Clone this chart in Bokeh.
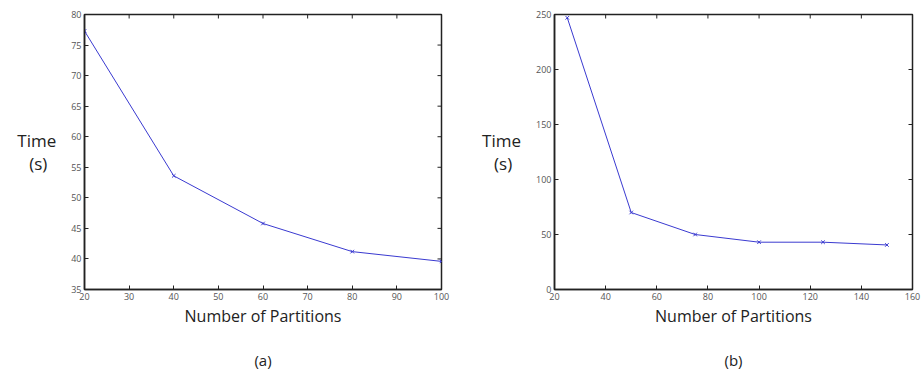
from math import pi
from bokeh.plotting import figure
from bokeh.layouts import row
from bokeh.models import Title, Range1d, FixedTicker
from bokeh.embed import file_html
from bokeh.resources import INLINE

# Panel (a)
a_partitions = [20, 40, 60, 80, 100]
a_time = [77.3, 53.6, 45.8, 41.2, 39.6]
a_xticks = [20, 30, 40, 50, 60, 70, 80, 90, 100]
a_yticks = [35, 40, 45, 50, 55, 60, 65, 70, 75, 80]

# Panel (b)
b_partitions = [25, 50, 75, 100, 125, 150]
b_time = [247, 70, 50, 43, 43, 40.5]
b_xticks = [20, 40, 60, 80, 100, 120, 140, 160]
b_yticks = [0, 50, 100, 150, 200, 250]

FONT = "Open Sans"
LINE = "#3a3ad0"


def make(xs, ys, xr, yr, xt, yt, caption, fw, fh, bl, br, bt, bb):
    p = figure(frame_width=fw, frame_height=fh, output_backend="svg", toolbar_location=None,
               x_range=Range1d(*xr), y_range=Range1d(*yr),
               min_border_left=bl, min_border_right=br, min_border_top=bt, min_border_bottom=bb)
    p.xgrid.visible = False
    p.ygrid.visible = False
    p.outline_line_color = "#222222"
    p.outline_line_width = 1.5
    p.background_fill_color = "white"
    p.border_fill_color = "white"
    for ax, ticks in ((p.xaxis[0], xt), (p.yaxis[0], yt)):
        ax.ticker = FixedTicker(ticks=ticks)
        ax.major_tick_in = 4
        ax.major_tick_out = 0
        ax.minor_tick_line_color = None
        ax.axis_line_color = "#222222"
        ax.axis_line_width = 1.5
        ax.major_tick_line_color = "#222222"
        ax.major_label_text_font = FONT
        ax.major_label_text_font_size = "9px"
        ax.major_label_text_color = "#555555"
        ax.major_label_standoff = 3
        ax.axis_label_text_font = FONT
        ax.axis_label_text_font_style = "normal"
        ax.axis_label_text_color = "#222222"
    p.xaxis[0].axis_label = "Number of Partitions"
    p.xaxis[0].axis_label_text_font_size = "16px"
    p.xaxis[0].axis_label_standoff = 2
    p.yaxis[0].axis_label = "Time\n(s)\u00a0\u00a0"
    p.yaxis[0].axis_label_text_font_size = "17px"
    p.yaxis[0].axis_label_orientation = "horizontal"
    p.yaxis[0].axis_label_text_line_height = 1.0
    p.yaxis[0].axis_label_standoff = 12
    # mirrored inward ticks on the top and right edges (clipped dash markers)
    p.scatter(xt, [yr[1]] * len(xt), marker="dash", angle=pi / 2, size=8,
              line_color="#222222", line_width=1)
    p.scatter([xr[1]] * len(yt), yt, marker="dash", size=8,
              line_color="#222222", line_width=1)
    p.line(xs, ys, line_color=LINE, line_width=1)
    p.scatter(xs, ys, marker="x", size=5, line_color=LINE, line_width=1)
    t = Title(text=caption, align="center", text_font=FONT, text_font_size="15px",
              text_font_style="normal", text_color="#222222", padding=(0, 0, 13, 0))
    p.add_layout(t, "below")
    return p


pa = make(a_partitions, a_time, (20, 100), (35, 80), a_xticks, a_yticks, "(a)",
          357, 275, 84, 20, 13, 89)
pb = make(b_partitions, b_time, (20, 160), (0, 250), b_xticks, b_yticks, "(b)",
          358, 275, 93, 10, 14, 88)

layout = row(pa, pb)
open("out.html", "w").write(file_html(layout, INLINE))
